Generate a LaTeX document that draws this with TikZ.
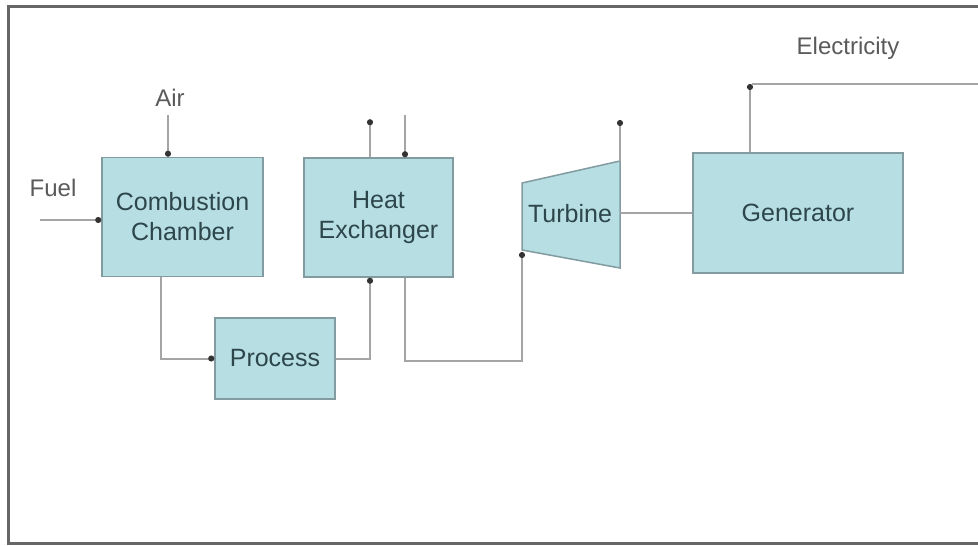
\documentclass[tikz,border=0pt]{standalone}
\usepackage{fontspec}
\setmainfont{Liberation Sans}
\usepackage{tikz}
\usetikzlibrary{arrows.meta,calc,positioning}
\definecolor{BoxTeal}{RGB}{183,223,227}
\definecolor{BoxEdge}{RGB}{130,155,160}
\definecolor{FlowGray}{RGB}{165,165,165}
\definecolor{BoxText}{RGB}{45,70,75}
\definecolor{TagText}{RGB}{90,90,90}

\begin{document}
\begin{tikzpicture}[x=1pt,y=-1pt,
  unit/.style={draw=BoxEdge,line width=1.5pt,fill=BoxTeal,text=BoxText,align=center,inner sep=0pt,font=\fontsize{25}{30}\selectfont},
  flow/.style={draw=FlowGray,line width=2pt,-{Circle[length=6pt,color=black!80]}},
  line/.style={draw=FlowGray,line width=2pt},
  tag/.style={text=TagText,font=\fontsize{24}{28}\selectfont}]
\useasboundingbox (0,0) rectangle (978,546);
\draw[line width=3pt,black!60] (978,6) -- (8,6) -- (8,543) -- (978,543);
% units
\node[unit,minimum width=161pt,minimum height=119pt] (cc) at (182.5,217) {Combustion\\Chamber};
\node[unit,minimum width=149pt,minimum height=119pt] (hx) at (378.5,217.5) {Heat\\Exchanger};
\node[unit,minimum width=120pt,minimum height=81pt] (pr) at (275,358.5) {Process};
\node[unit,minimum width=210pt,minimum height=120pt] (gen) at (798,213) {Generator};
% turbine
\coordinate (tin) at (522,252);
\coordinate (tout) at (620,161);
\coordinate (tshaft) at (620,213);
\draw[draw=BoxEdge,line width=1.5pt,fill=BoxTeal] (522,183) -- (tout) -- (620,268) -- (522,250) -- cycle;
\node[text=BoxText,font=\fontsize{25}{30}\selectfont] (tb) at (570,214) {Turbine};
% labels
\node[tag] (fuel) at (53,188) {Fuel};
\node[tag] (air) at (170,98) {Air};
\node[tag] (elec) at (848,48) {Electricity};
\coordinate (fuelin) at (40,220);
\coordinate (airin) at (168,115);
\coordinate (hxin) at (405,115);
\coordinate (elecend) at (978,84);
\coordinate (gtop) at ([xshift=-48pt]gen.north |- elecend);
% flows
\draw[flow] (fuelin) -- (cc.west |- fuelin);
\draw[flow] (airin) -- (airin |- cc.north);
\draw[flow] ([xshift=-22pt]cc.south) |- (pr.west);
\draw[flow] (pr.east) -| ([xshift=-8.5pt]hx.south);
\draw[flow] ([xshift=-8.5pt]hx.north) -- ++(0,-38);
\draw[flow] (hxin) -- (hxin |- hx.north);
\draw[flow] ([xshift=26.5pt]hx.south) -- ++(0,83) -| (tin);
\draw[flow] (tout) -- ++(0,-41);
\draw[line] (tshaft) -- (gen.west);
\draw[flow] ([xshift=-48pt]gen.north) -- (gtop);
\draw[line] ([xshift=2pt]gtop) -- (elecend);
\end{tikzpicture}
\end{document}
